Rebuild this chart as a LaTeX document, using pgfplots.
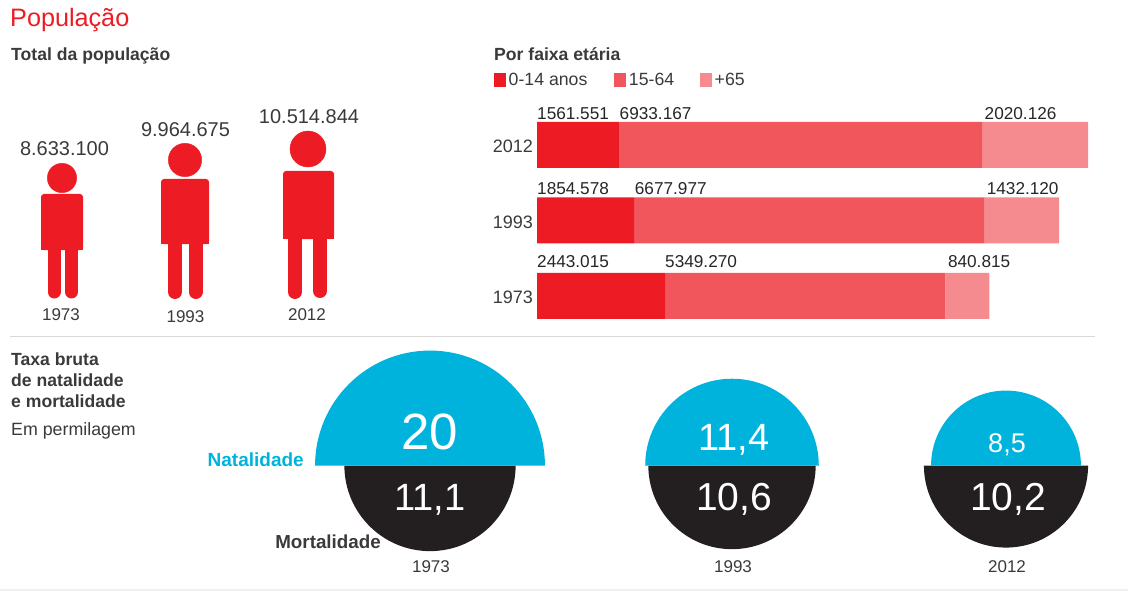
\documentclass[border=0pt]{standalone}
\usepackage{fontspec}
\setmainfont{Liberation Sans}
\usepackage{pgfplots}
\usepackage{pgfplotstable}
\pgfplotsset{compat=1.18}

\definecolor{redA}{HTML}{ED1C24}
\definecolor{redB}{HTML}{F1565C}
\definecolor{redC}{HTML}{F68B8F}
\definecolor{azul}{HTML}{00B3DC}
\definecolor{preto}{HTML}{231F20}
\definecolor{texto}{HTML}{3A3A3C}

% half disks, radius comes from the mark size
\pgfdeclareplotmark{halfup}{%
  \pgfpathmoveto{\pgfqpoint{-\pgfplotmarksize}{0pt}}%
  \pgfpatharc{180}{0}{\pgfplotmarksize}\pgfpathclose\pgfusepathqfill}
\pgfdeclareplotmark{halfdown}{%
  \pgfpathmoveto{\pgfqpoint{-\pgfplotmarksize}{0pt}}%
  \pgfpatharc{180}{360}{\pgfplotmarksize}\pgfpathclose\pgfusepathqfill}

\newcommand{\fs}[1]{\fontsize{#1}{#1}\selectfont}

% bars, 1973 at the bottom
\pgfplotstableread{
y a b c
0 2443015 5349270 840815
1 1854578 6677977 1432120
2 1561551 6933167 2020126
}\faixas

% x is where the label starts, close to the start of its segment
\pgfplotstableread{
x y lab
0 2.318 1561.551
1575000 2.318 6933.167
8540000 2.318 2020.126
0 1.33 1854.578
1865000 1.33 6677.977
8580000 1.33 1432.120
0 0.355 2443.015
2443015 0.355 5349.270
7840000 0.355 840.815
}\rotulos

\pgfplotstableread{
x y v
430 465.5 20
732 465.5 11.4
1006 465.5 8.5
}\natalidade

\pgfplotstableread{
x y v
430 465.5 11.1
732 465.5 10.6
1006 465.5 10.2
}\mortalidade

% cx cy r, body x0 x1 ytop ybot, leg centre, leg width
\newcommand{\pessoa}[9]{%
  \addplot[only marks,color=redA,mark=*,mark size=#3pt,mark options={fill=redA,draw=redA}] coordinates {(#1,#2)};
  \addplot[fill=redA,draw=none,rounded corners=3pt] coordinates {(#4,#6)(#5,#6)(#5,#7)(#4,#7)} -- cycle;
  \addplot[fill=redA,draw=none] coordinates {(#4,#6+15)(#5,#6+15)(#5,#7)(#4,#7)} -- cycle;
  \addplot[redA,line width=#9pt,line cap=round] coordinates {(#8,#7)(#8,292)};
}

\begin{document}
\begin{tikzpicture}[
    txt/.style={inner sep=0pt,text=texto,font=\fs{17.8}},
    tit/.style={inner sep=0pt,text=texto,font=\fs{17.6}\bfseries}]
\path[use as bounding box] (0,0) rectangle (1128pt,591pt);

\begin{axis}[
    at={(0,0)},anchor=south west,
    scale only axis,width=1128pt,height=591pt,
    xmin=0,xmax=1128,ymin=0,ymax=591,y dir=reverse,
    hide axis,clip=false,
]
% headings
\node[anchor=base west,inner sep=0pt,text=redA,font=\fs{25.2}] at (axis cs:10,27) {População};
\node[tit,anchor=base west] at (axis cs:11,61) {Total da população};
\node[tit,anchor=base west] at (axis cs:494,61) {Por faixa etária};
\node[tit,anchor=base west] at (axis cs:11,365) {Taxa bruta};
\node[tit,anchor=base west] at (axis cs:11,386) {de natalidade};
\node[tit,anchor=base west] at (axis cs:11,407) {e mortalidade};
\node[txt,anchor=base west] at (axis cs:11,435) {Em permilagem};

% rule and bottom strip
\addplot[color=black!15,line width=1pt] coordinates {(10,336)(1095,336)};
\addplot[color=black!6,line width=3pt] coordinates {(0,590)(1128,590)};

% people
\pessoa{62}{178}{14.7}{41}{83}{194}{250}{54}{13}
\addplot[redA,line width=13pt,line cap=round] coordinates {(71.5,250)(71.5,292)};
\pessoa{185}{160}{16.7}{161}{209}{179}{244}{175}{14}
\addplot[redA,line width=14pt,line cap=round] coordinates {(195.5,244)(195.5,292)};
\pessoa{308}{149}{18}{283}{334}{171}{239}{295}{14}
\addplot[redA,line width=14pt,line cap=round] coordinates {(320,239)(320,291)};

\node[inner sep=0pt,text=texto,font=\fs{20},anchor=base] at (axis cs:64.5,156) {8.633.100};
\node[inner sep=0pt,text=texto,font=\fs{20},anchor=base] at (axis cs:185.5,137) {9.964.675};
\node[inner sep=0pt,text=texto,font=\fs{20},anchor=base] at (axis cs:309,124) {10.514.844};
\node[txt,anchor=base,font=\fs{17}] at (axis cs:61,320) {1973};
\node[txt,anchor=base,font=\fs{17}] at (axis cs:185.5,322) {1993};
\node[txt,anchor=base,font=\fs{17}] at (axis cs:307,320) {2012};

% half disks, area follows the rate
\addplot[scatter,only marks,mark=halfdown,
    scatter/use mapped color={draw=none,fill=preto},
    visualization depends on={25.7*sqrt(\thisrow{v}) \as \raio},
    scatter/@pre marker code/.append style={/tikz/mark size=\raio pt}]
    table[x=x,y=y] {\mortalidade};
\addplot[scatter,only marks,mark=halfup,
    scatter/use mapped color={draw=none,fill=azul},
    visualization depends on={25.7*sqrt(\thisrow{v}) \as \raio},
    scatter/@pre marker code/.append style={/tikz/mark size=\raio pt}]
    table[x=x,y=y] {\natalidade};

\node[inner sep=0pt,text=azul,font=\fs{19}\bfseries,anchor=base east] at (axis cs:304,466) {Natalidade};
\node[tit,font=\fs{18.8}\bfseries,anchor=base east] at (axis cs:381,548) {Mortalidade};
\node[txt,anchor=base,font=\fs{17}] at (axis cs:431,572) {1973};
\node[txt,anchor=base,font=\fs{17}] at (axis cs:733,572) {1993};
\node[txt,anchor=base,font=\fs{17}] at (axis cs:1007,572) {2012};
\end{axis}

% values on the half disks, in an axis of their own so that they lie on top
\begin{axis}[
    at={(0,0)},anchor=south west,
    scale only axis,width=1128pt,height=591pt,
    xmin=0,xmax=1128,ymin=0,ymax=591,y dir=reverse,
    hide axis,clip=false,
]
\addplot[draw=none,mark=none,forget plot] coordinates {(0,0)};
\node[inner sep=0pt,text=white,font=\fs{51},anchor=base] at (axis cs:430,449) {20};
\node[inner sep=0pt,text=white,font=\fs{38},anchor=base] at (axis cs:430,510) {11,1};
\node[inner sep=0pt,text=white,font=\fs{38},anchor=base] at (axis cs:734,450) {11,4};
\node[inner sep=0pt,text=white,font=\fs{39},anchor=base] at (axis cs:734,510) {10,6};
\node[inner sep=0pt,text=white,font=\fs{27},anchor=base] at (axis cs:1007,452) {8,5};
\node[inner sep=0pt,text=white,font=\fs{39},anchor=base] at (axis cs:1008,510) {10,2};
\end{axis}

% stacked bars by age group
\begin{axis}[
    at={(537pt,257.25pt)},anchor=south west,
    scale only axis,width=551pt,height=226.5pt,
    xbar stacked,bar width=46pt,
    xmin=0,xmax=10514844,ymin=-0.5,ymax=2.5,
    xtick=\empty,ytick={0,1,2},yticklabels={1973,1993,2012},
    axis line style={draw=none},major tick length=0pt,
    yticklabel style={inner sep=0pt,xshift=-4pt,yshift=-1.5pt,text=texto,font=\fs{18}},
    legend columns=3,
    legend style={at={(-43pt,1.12*226.5pt)},anchor=west,draw=none,fill=none,inner sep=0pt,
        font=\fs{17.7},text=texto,
        nodes={inner ysep=1.5pt,inner xsep=2.5pt},
        /tikz/column 2/.style={column sep=24.5pt},
        /tikz/column 4/.style={column sep=23.5pt}},
    legend image code/.code={\fill[#1] (0pt,-7pt) rectangle (12pt,7pt);},
]
\addplot[fill=redA,draw=none] table[x=a,y=y] {\faixas};
\addplot[fill=redB,draw=none] table[x=b,y=y] {\faixas};
\addplot[fill=redC,draw=none] table[x=c,y=y] {\faixas};
\legend{0-14 anos,15-64,+65}
\end{axis}

% value labels sit at the start of each segment
\begin{axis}[
    at={(537pt,257.25pt)},anchor=south west,
    scale only axis,width=551pt,height=226.5pt,
    xmin=0,xmax=10514844,ymin=-0.5,ymax=2.5,
    hide axis,clip=false,
]
\addplot[draw=none,mark=none,nodes near coords,point meta=explicit symbolic,
    nodes near coords style={anchor=south west,inner sep=0pt,yshift=1pt,text=black!85,font=\fs{17.2}}]
    table[x=x,y=y,meta=lab] {\rotulos};
\end{axis}
\end{tikzpicture}
\end{document}
